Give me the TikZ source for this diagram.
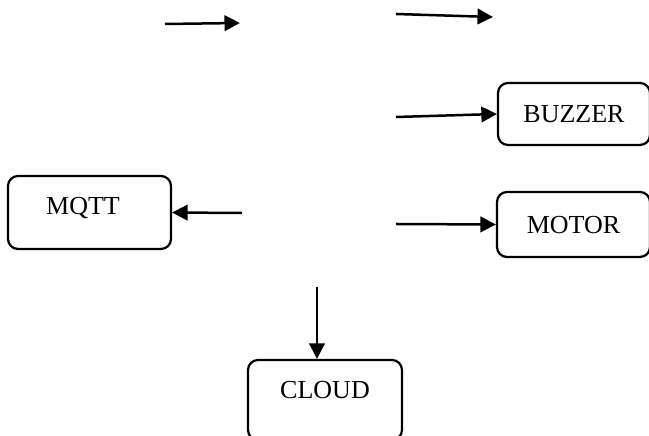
\documentclass[tikz,border=0pt]{standalone}
\usepackage{fontspec}
\setmainfont{Liberation Serif}
\usetikzlibrary{arrows.meta}

\begin{document}
\begin{tikzpicture}[
    box/.style={draw, line width=0.045cm, rounded corners=0.2cm, inner sep=0pt,
      text height=0.344cm, text depth=0cm, font=\fontsize{14.8}{18}\selectfont},
    link/.style={line width=0.05cm, -{Triangle[length=0.31cm,width=0.31cm]}}
  ]
  \useasboundingbox (0,0) rectangle (12.98,8.72);

  % Boxes
  \node[box, minimum width=3.04cm, minimum height=1.24cm] (buzzer) at (11.48,6.44) {BUZZER};
  \node[box, minimum width=3.06cm, minimum height=1.30cm] (motor) at (11.47,4.23) {MOTOR};
  \node[box, minimum width=3.26cm, minimum height=1.46cm, text depth=0.26cm] (mqtt) at (1.79,4.47) {MQTT\kern0.26cm};
  \node[box, minimum width=3.08cm, minimum height=1.60cm, text depth=0.40cm] (cloud) at (6.50,0.72) {CLOUD};

  % Free ends
  \coordinate (top1a) at (3.30,8.24);
  \coordinate (top1b) at (4.80,8.26);
  \coordinate (top2a) at (7.92,8.44);
  \coordinate (top2b) at (9.86,8.38);
  \coordinate (buzzin) at (7.92,6.38);
  \coordinate (motorin) at (7.92,4.24);
  \coordinate (mqttout) at (4.84,4.46);
  \coordinate (cloudout) at (6.34,2.98);

  % Arrows
  \draw[link] (top1a) -- (top1b);
  \draw[link] (top2a) -- (top2b);
  \draw[link] (buzzin) -- (buzzer.west);
  \draw[link] (motorin) -- (motor.west);
  \draw[link] (mqttout) -- (mqtt.east);
  \draw[link] (cloudout) -- (cloudout |- cloud.north);
\end{tikzpicture}
\end{document}
